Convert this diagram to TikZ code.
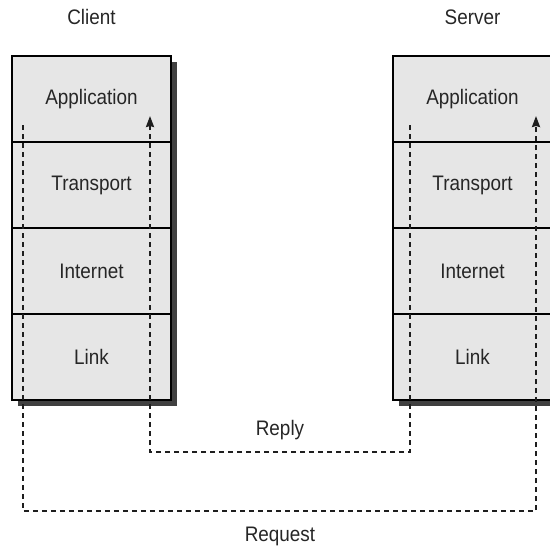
\documentclass[tikz,border=0pt]{standalone}
\usepackage{fontspec}
\setmainfont{Liberation Sans}[FakeStretch=0.9]
\usetikzlibrary{arrows.meta,positioning,calc}
\definecolor{layergray}{RGB}{230,230,230}
\definecolor{shadowgray}{RGB}{64,64,64}
\definecolor{flowgray}{RGB}{30,30,30}

\tikzset{
  layer/.style={draw=black, line width=1.4pt, fill=layergray, minimum width=159pt,
    minimum height=86pt, inner sep=0pt, text=black!85, font=\fontsize{21}{24}\selectfont},
  caption/.style={text=black!85, font=\fontsize{21}{24}\selectfont},
  flow/.style={draw=flowgray, line width=2pt, dash pattern=on 5pt off 4pt},
}

\begin{document}
\begin{tikzpicture}[x=1pt, y=-1pt]
    \useasboundingbox (0,0) rectangle (550,546);

    % Client
    \fill[shadowgray] (18,62) rectangle (177,406);
    \node[layer] (capp) at (91.5,99) {Application};
    \node[layer] (ctrans) at (91.5,185) {Transport};
    \node[layer] (cnet) at (91.5,271) {Internet};
    \node[layer] (clink) at (91.5,357) {Link};
    \node[caption] (client) at (91.5,17) {Client};

    % Server
    \fill[shadowgray] (399,62) rectangle (558,406);
    \node[layer] (sapp) at (472.5,99) {Application};
    \node[layer] (strans) at (472.5,185) {Transport};
    \node[layer] (snet) at (472.5,271) {Internet};
    \node[layer] (slink) at (472.5,357) {Link};
    \node[caption] (server) at (472.5,17) {Server};

    % Request
    \coordinate (reqout) at (23,125);
    \coordinate (reqin) at (536,116);
    \draw[flow, -{Stealth[length=11pt, width=8pt, inset=1pt]}] (reqout) -- ++(0,386) -| (reqin);
    \node[caption] (request) at (280,536) {Request};

    % Reply
    \coordinate (repout) at (410,125);
    \coordinate (repin) at (150,116);
    \draw[flow, -{Stealth[length=11pt, width=8pt, inset=1pt]}] (repout) -- ++(0,327) -| (repin);
    \node[caption] (reply) at (280,430) {Reply};
\end{tikzpicture}
\end{document}
